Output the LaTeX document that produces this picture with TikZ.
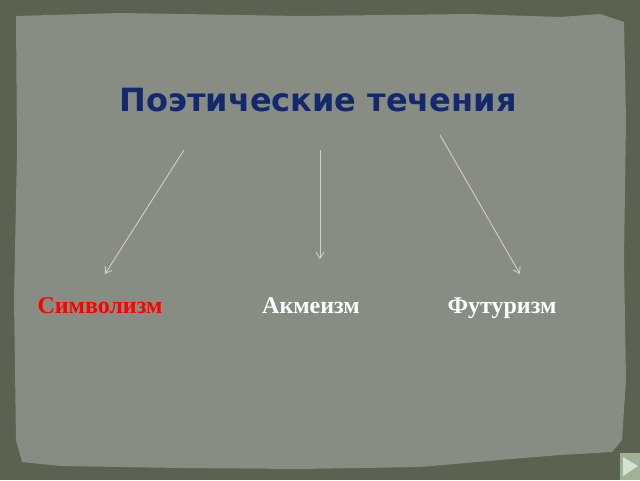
\documentclass[tikz,border=0pt]{standalone}
\usepackage{fontspec}
\setmainfont{Liberation Serif}
\newfontfamily\titlefont{DejaVu Sans}
\usetikzlibrary{arrows.meta}
\definecolor{frame}{RGB}{90,98,80}
\definecolor{paper}{RGB}{136,141,131}
\definecolor{titleblue}{RGB}{20,40,110}
\definecolor{arrowcol}{RGB}{210,208,184}
\definecolor{navgreen}{RGB}{160,178,150}
\tikzset{
  trend/.style={font=\bfseries\fontsize{24}{28}\selectfont, text=white, anchor=base},
  branch/.style={draw=arrowcol, line width=0.9pt, -{Straight Barb[length=6pt,width=8pt]}}
}
\begin{document}
\begin{tikzpicture}[x=1pt,y=-1pt]
  \useasboundingbox (0,0) rectangle (640,480);
  \fill[frame] (0,0) rectangle (640,480);
  \fill[paper] (16,16) -- (120,13) -- (300,16) -- (470,14) -- (560,17) -- (600,14) -- (624,22)
    -- (626,120) -- (624,260) -- (626,380) -- (622,440) -- (612,452) -- (560,455) -- (500,460)
    -- (420,467) -- (300,469) -- (180,468) -- (60,466) -- (22,462) -- (16,440) -- (14,300)
    -- (17,150) -- cycle;
  \node[font=\titlefont\bfseries\fontsize{32}{38}\selectfont, text=titleblue] (title) at (318,100) {Поэтические течения};
  \node[trend, text=red] (simv) at (100,313) {Символизм};
  \node[trend] (akme) at (311,313) {Акмеизм};
  \node[trend] (futu) at (502,313) {Футуризм};
  \coordinate (s1) at (184,150);
  \coordinate (e1) at (105,274);
  \coordinate (s2) at (320,150);
  \coordinate (e2) at (320,259);
  \coordinate (s3) at (440,135);
  \coordinate (e3) at (520,274);
  \draw[branch] (s1) -- (e1);
  \draw[branch] (s2) -- (e2);
  \draw[branch] (s3) -- (e3);
  \fill[navgreen] (620,453) rectangle (640,480);
  \fill[white, opacity=0.6] (623,457) -- (638,466) -- (623,476) -- cycle;
\end{tikzpicture}
\end{document}
